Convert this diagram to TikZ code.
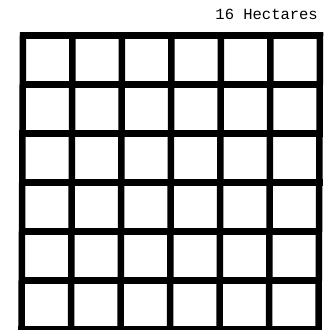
\documentclass[tikz,border=0pt]{standalone}
\usepackage{fontspec}
\newfontfamily\monofont{Liberation Mono}
\begin{document}
\begin{tikzpicture}[x=1pt,y=-1pt,
  gridline/.style={line width=6.5pt,line cap=rect,line join=miter,black},
  label/.style={font=\monofont\fontsize{15.5}{16}\selectfont,inner sep=0pt,anchor=base east}]
\useasboundingbox (0,0) rectangle (330,330);
% vertical lines (slight skew: top x = 23+49.5k, bottom x = 21.5+49.5k)
\foreach \k in {0,...,6}{
  \draw[gridline] ({23+49.5*\k},35.5) -- ({21.5+49.5*\k},329.5);
}
% horizontal lines
\foreach \k in {0,...,6}{
  \pgfmathsetmacro{\yy}{35.5+49*\k}
  \pgfmathsetmacro{\xl}{23-1.5*(\yy-35.5)/294}
  \draw[gridline] (\xl,\yy) -- ({\xl+297},\yy);
}
\node[label] (title) at (318,19.3) {16 Hectares};
\end{tikzpicture}
\end{document}
